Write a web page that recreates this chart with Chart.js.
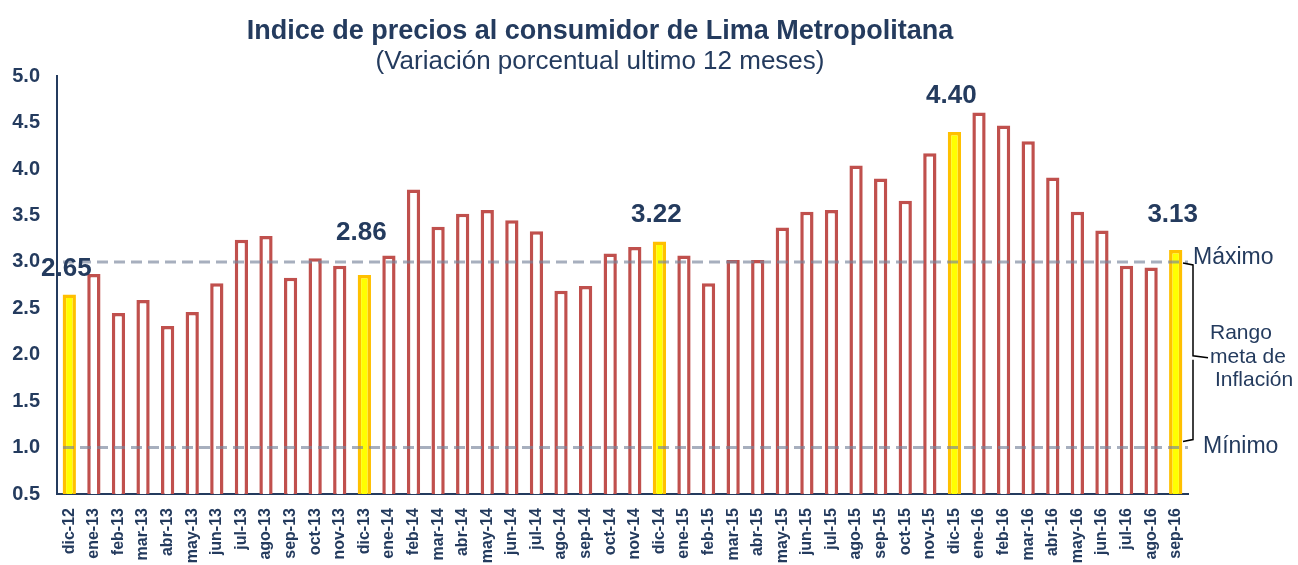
<!DOCTYPE html>
<html>
<head>
<meta charset="utf-8">
<script src="https://cdn.jsdelivr.net/npm/chart.js@4/dist/chart.umd.min.js"></script>
<style>
  body { margin: 0; background: #fff; }
</style>
</head>
<body>
<canvas id="chart" width="1298" height="565"></canvas>
<script>
'use strict';

// data
let meses = ['dic-12',
  'ene-13', 'feb-13', 'mar-13', 'abr-13', 'may-13', 'jun-13', 'jul-13', 'ago-13', 'sep-13', 'oct-13', 'nov-13', 'dic-13',
  'ene-14', 'feb-14', 'mar-14', 'abr-14', 'may-14', 'jun-14', 'jul-14', 'ago-14', 'sep-14', 'oct-14', 'nov-14', 'dic-14',
  'ene-15', 'feb-15', 'mar-15', 'abr-15', 'may-15', 'jun-15', 'jul-15', 'ago-15', 'sep-15', 'oct-15', 'nov-15', 'dic-15',
  'ene-16', 'feb-16', 'mar-16', 'abr-16', 'may-16', 'jun-16', 'jul-16', 'ago-16', 'sep-16'];

let ipc = [2.65,
  2.87, 2.45, 2.59, 2.31, 2.46, 2.77, 3.24, 3.28, 2.83, 3.04, 2.96, 2.86,
  3.07, 3.78, 3.38, 3.52, 3.56, 3.45, 3.33, 2.69, 2.74, 3.09, 3.16, 3.22,
  3.07, 2.77, 3.02, 3.02, 3.37, 3.54, 3.56, 4.04, 3.90, 3.66, 4.17, 4.40,
  4.61, 4.47, 4.30, 3.91, 3.54, 3.34, 2.96, 2.94, 3.13];

let yTicks = [0.5, 1.0, 1.5, 2.0, 2.5, 3.0, 3.5, 4.0, 4.5, 5.0];

let metaMax = 3.0;
let metaMin = 1.0;

// dic months + last month get the yellow bar and the label
let destacados = [];
for (let i = 0; i < meses.length; i++) {
  if (meses[i].startsWith('dic') || i === meses.length - 1) {
    destacados.push(i);
  }
}

let navy = '#243B5E';
let fuente = '"Liberation Sans", Arial, sans-serif';

let fillColors = [];
let borderColors = [];
for (let i = 0; i < ipc.length; i++) {
  if (destacados.includes(i)) {
    fillColors.push('#FFFF00');
    borderColors.push('#FFC000');
  } else {
    fillColors.push('#FFFFFF');
    borderColors.push('#C0504D');
  }
}

// dashed target lines, brace and labels
let metaPlugin = {
  id: 'meta',
  afterDatasetsDraw(chart) {
    let ctx = chart.ctx;
    let area = chart.chartArea;
    let y = chart.scales.y;
    let yMax = y.getPixelForValue(metaMax);
    let yMin = y.getPixelForValue(metaMin);

    ctx.save();
    ctx.strokeStyle = 'rgba(120,132,155,0.65)';
    ctx.lineWidth = 3;
    ctx.setLineDash([11, 6]);
    [yMax, yMin].forEach(function (py) {
      ctx.beginPath();
      ctx.moveTo(area.left + 6, py);
      ctx.lineTo(area.right, py);
      ctx.stroke();
    });
    ctx.setLineDash([]);

    // brace
    let bx = area.right + 5;
    let mid = (yMax + yMin) / 2 + 3;
    ctx.strokeStyle = '#000';
    ctx.lineWidth = 1.5;
    ctx.beginPath();
    ctx.moveTo(bx - 10, yMax + 1);
    ctx.lineTo(bx, yMax + 3);
    ctx.lineTo(bx, mid - 2);
    ctx.lineTo(bx + 15, mid);
    ctx.moveTo(bx, mid + 2);
    ctx.lineTo(bx, yMin - 8);
    ctx.lineTo(bx - 10, yMin - 6);
    ctx.stroke();

    ctx.fillStyle = navy;
    ctx.font = '23px ' + fuente;
    ctx.textBaseline = 'middle';
    ctx.textAlign = 'left';
    ctx.fillText('Máximo', area.right + 5, yMax - 4);
    ctx.fillText('Mínimo', area.right + 15, yMin - 1);
    ctx.font = '21px ' + fuente;
    ctx.fillText('Rango', area.right + 22, mid - 25);
    ctx.fillText('meta de', area.right + 22, mid - 1);
    ctx.fillText('Inflación', area.right + 27, mid + 22);
    ctx.restore();
  }
};

// value labels over the highlighted bars
let etiquetasPlugin = {
  id: 'etiquetas',
  afterDraw(chart) {
    let ctx = chart.ctx;
    let meta = chart.getDatasetMeta(0);
    let subir = { 0: 26, 12: 42, 24: 27, 36: 36, 45: 35 };
    ctx.save();
    ctx.fillStyle = navy;
    ctx.font = 'bold 26px ' + fuente;
    ctx.textAlign = 'center';
    ctx.textBaseline = 'middle';
    destacados.forEach(function (i) {
      let bar = meta.data[i];
      let dy = subir[i] || 32;
      ctx.fillText(ipc[i].toFixed(2), bar.x - 3, bar.y - dy);
    });
    ctx.restore();
  }
};

let canvasElem = document.getElementById('chart');

let chartObj = {
  type: 'bar',
  data: {
    labels: meses,
    datasets: [{
      label: 'IPC Lima Metropolitana',
      data: ipc,
      backgroundColor: fillColors,
      borderColor: borderColors,
      borderWidth: 3.5,
      categoryPercentage: 1,
      barPercentage: 0.54
    }]
  },
  options: {
    responsive: false,
    animation: false,
    layout: {
      padding: { top: 0, right: 110, left: 12, bottom: 0 }
    },
    plugins: {
      legend: { display: false },
      tooltip: { enabled: false },
      title: {
        display: true,
        text: 'Indice de precios al consumidor de Lima Metropolitana',
        color: navy,
        font: { family: fuente, size: 27, weight: 'bold', lineHeight: 1.1 },
        padding: { top: 17, bottom: 0 }
      },
      subtitle: {
        display: true,
        text: '(Variación porcentual ultimo 12 meses)',
        color: navy,
        font: { family: fuente, size: 26, lineHeight: 1.1 },
        padding: { top: 1, bottom: 0 }
      }
    },
    scales: {
      x: {
        grid: { display: false },
        border: { display: true, color: navy, width: 2 },
        ticks: {
          color: navy,
          font: { family: fuente, size: 16, weight: 'bold' },
          minRotation: 90,
          maxRotation: 90,
          autoSkip: false,
          padding: 6
        },
        afterFit(scale) { scale.height = 71; }
      },
      y: {
        min: yTicks[0],
        max: yTicks[yTicks.length - 1],
        grid: { display: false },
        border: { display: true, color: navy, width: 2 },
        afterBuildTicks(scale) {
          scale.ticks = yTicks.map(function (v) { return { value: v }; });
        },
        ticks: {
          color: navy,
          font: { family: fuente, size: 20, weight: 'bold' },
          padding: 9,
          callback: function (v) { return Number(v).toFixed(1); }
        },
        afterFit(scale) { scale.width = 45; }
      }
    }
  },
  plugins: [metaPlugin, etiquetasPlugin]
};

new Chart(canvasElem, chartObj);
</script>
</body>
</html>
